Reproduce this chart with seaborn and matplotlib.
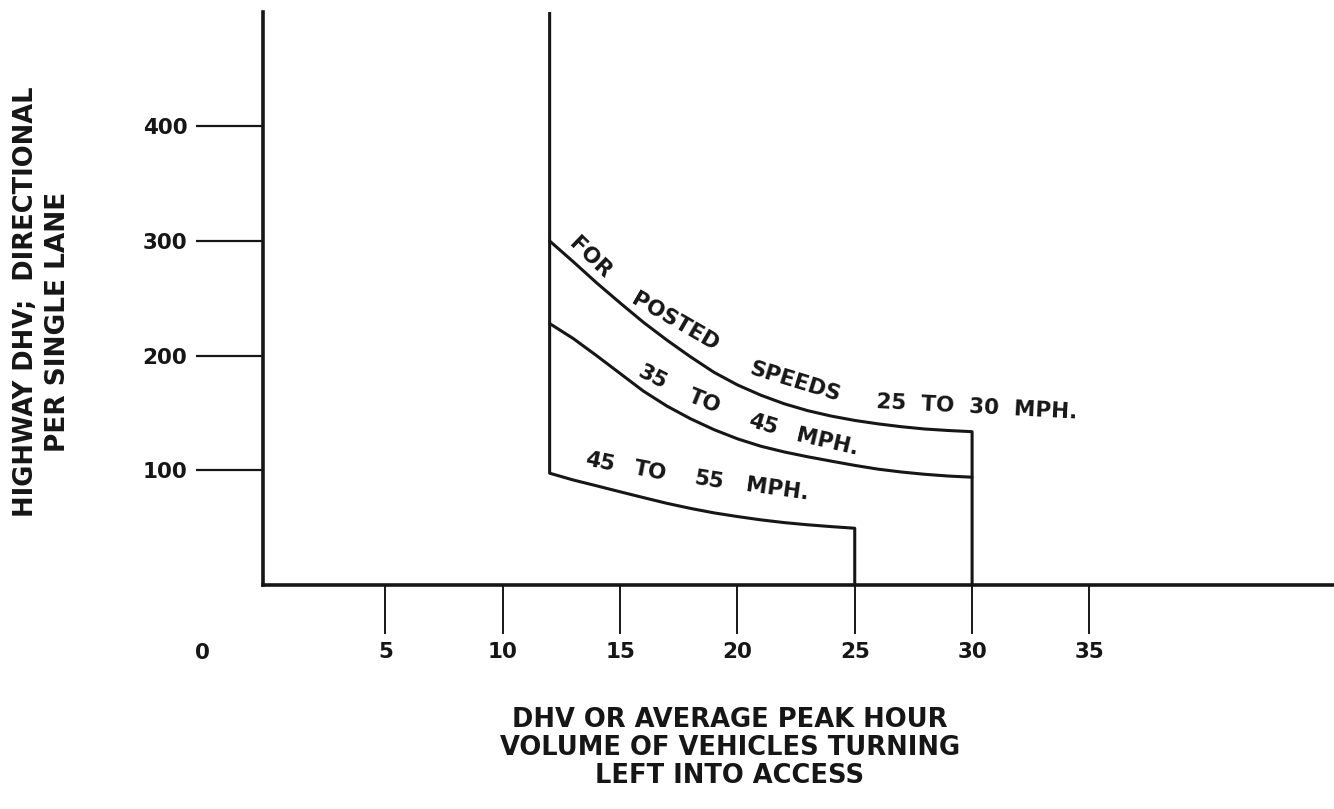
import matplotlib
matplotlib.use("Agg")
import matplotlib.pyplot as plt
import seaborn as sns

# ---- data ----
# upper boundary: posted speeds 25 to 30 mph (drops to the axis at 30)
x_25_30 = [12, 13, 14, 15, 16, 17, 18, 19, 20, 21, 22, 23, 24, 25, 26, 27, 28, 29, 30, 30]
y_25_30 = [300, 282, 263.5, 246, 229, 213.5, 199, 185.5, 174.5, 165.5, 158, 152, 147.3, 143.5,
           140.5, 138, 136, 134.7, 133.7, 0]
# posted speeds 35 to 45 mph
x_35_45 = [12, 13, 14, 15, 16, 17, 18, 19, 20, 21, 22, 23, 24, 25, 26, 27, 28, 29, 30]
y_35_45 = [228, 215, 200, 184.5, 169, 156, 145, 135.5, 127.5, 121, 116, 111.8, 108, 104.3,
           101, 98.5, 96.5, 95, 94]
# posted speeds 45 to 55 mph (left boundary at 12 vehicles, drops to the axis at 25)
x_45_55 = [12, 12, 13, 14, 15, 16, 17, 18, 19, 20, 21, 22, 23, 24, 25, 25]
y_45_55 = [500, 97.5, 91.6, 86.5, 81.3, 76.2, 71.2, 66.8, 62.9, 59.7, 56.8, 54.4, 52.5, 50.9, 49.5, 0]

x_ticks = [5, 10, 15, 20, 25, 30, 35]
x_tick_labels = ["5", "10", "15", "20", "25", "30", "35"]
y_ticks = [100, 200, 300, 400]
y_tick_labels = ["100", "200", "300", "400"]

y_label_lines = ["HIGHWAY DHV;  DIRECTIONAL", "PER SINGLE LANE"]
x_label_lines = ["DHV OR AVERAGE PEAK HOUR",
                 "VOLUME OF VEHICLES TURNING",
                 "LEFT INTO ACCESS"]

# curve annotations: word, x, y, rotation
words_25_30 = [("FOR", 13.72, 285.5, -44), ("POSTED", 17.33, 229.0, -30),
               ("SPEEDS", 22.47, 177.3, -17), ("25  TO  30  MPH.", 30.18, 155.0, -3)]
words_35_45 = [("35", 16.4, 180.7, -27), ("TO", 18.6, 160.2, -22),
               ("45", 21.1, 140.2, -17), ("MPH.", 23.85, 124.2, -13)]
words_45_55 = [("45", 14.15, 106.7, -12), ("TO", 16.3, 99.2, -11),
               ("55", 18.8, 91.2, -9), ("MPH.", 21.7, 83.7, -8)]

# ---- drawing ----
sns.set_theme(style="white")
plt.rcParams["font.family"] = ["DejaVu Sans"]
plt.rcParams["font.weight"] = "bold"
ink = "#161616"

fig = plt.figure(figsize=(13.34, 8.09), dpi=100)
ax = fig.add_axes([262.5 / 1334, 1 - 585 / 809, (1334 - 262.5) / 1334, 573.4 / 809])

for xs, ys in [(x_25_30, y_25_30), (x_35_45, y_35_45), (x_45_55, y_45_55)]:
    sns.lineplot(x=xs, y=ys, sort=False, estimator=None, color=ink,
                 linewidth=2.2, ax=ax)

ax.set_xlim(-0.234, 45.42)
ax.set_ylim(0, 500)

for s in ["top", "right"]:
    ax.spines[s].set_visible(False)
for s in ["left", "bottom"]:
    ax.spines[s].set_linewidth(2.6)
    ax.spines[s].set_color(ink)

ax.set_xticks(x_ticks)
ax.set_xticklabels(x_tick_labels, fontweight="bold")
ax.set_yticks(y_ticks)
ax.set_yticklabels(y_tick_labels, fontweight="bold")
ax.tick_params(axis="x", direction="out", length=35, width=1.4, pad=6,
               colors=ink, labelsize=15.5, bottom=True)
ax.tick_params(axis="y", direction="out", length=48, width=1.6, pad=6,
               colors=ink, labelsize=15.5, left=True)
ax.grid(False)
ax.set_xlabel("")
ax.set_ylabel("")

# the "0" label sits left of the vertical axis
ax.text(-2.81, -(643 - 585) / 573.4, "0", transform=ax.get_xaxis_transform(),
        ha="center", va="top", fontsize=15.5, fontweight="bold", color=ink, clip_on=False)

for word, wx, wy, rot in words_25_30 + words_35_45 + words_45_55:
    ax.text(wx, wy, word, rotation=rot, rotation_mode="anchor",
            ha="center", va="center", fontsize=15.5, fontweight="bold", color=ink)

# axis titles
fig.text(26 / 1334, 1 - 302 / 809, y_label_lines[0], rotation=90,
         ha="center", va="center", fontsize=18.5, fontweight="bold", color=ink)
fig.text(58 / 1334, 1 - 322 / 809, y_label_lines[1], rotation=90,
         ha="center", va="center", fontsize=19, fontweight="bold", color=ink)
for line, py in zip(x_label_lines, [720, 748, 776]):
    fig.text(730 / 1334, 1 - py / 809, line, ha="center", va="center",
             fontsize=18.5, fontweight="bold", color=ink)

fig.savefig("out.png", dpi=100)
